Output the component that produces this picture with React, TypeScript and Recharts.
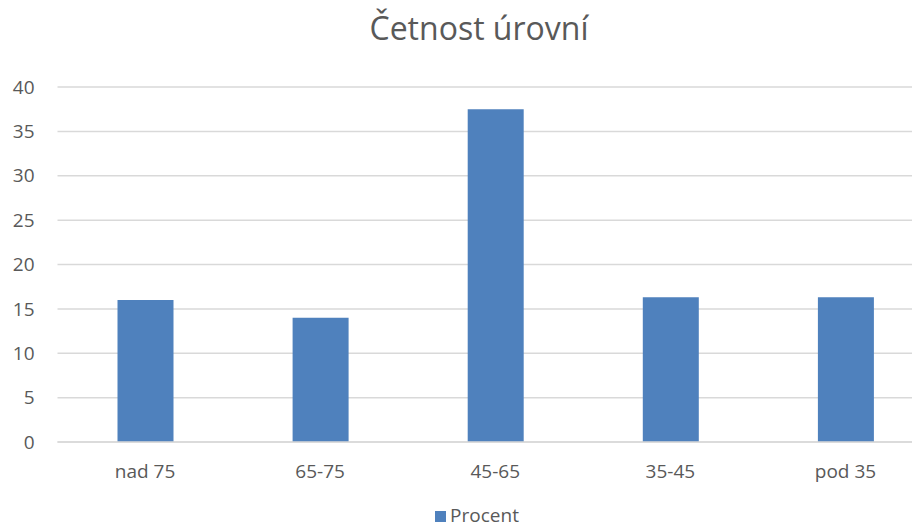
import React from 'react';
import { BarChart, Bar, XAxis, YAxis, CartesianGrid, Legend } from 'recharts';

const categories = ['nad 75', '65-75', '45-65', '35-45', 'pod 35'];
const procent = [16, 14, 37.5, 16.3, 16.3];
const yTicks = [0, 5, 10, 15, 20, 25, 30, 35, 40];

const data = categories.map((name, i) => ({ name, Procent: procent[i] }));

const FONT = '"Open Sans", sans-serif';
const TEXT = '#595959';

const App: React.FC = () => {
  return (
    <div style={{ margin: -8, width: 920, height: 530, overflow: 'hidden', position: 'relative', background: '#fff' }}>
      <div
        style={{
          position: 'absolute',
          top: 6,
          left: 279,
          width: 400,
          textAlign: 'center',
          fontFamily: FONT,
          fontSize: 32,
          color: TEXT,
        }}
      >
        Četnost úrovní
      </div>
      <BarChart
        width={933}
        height={530}
        data={data}
        margin={{ top: 87, right: 0, left: 0, bottom: 0 }}
        barSize={56}
      >
        <CartesianGrid vertical={false} stroke="#D9D9D9" strokeWidth={1.5} />
        <XAxis
          dataKey="name"
          axisLine={{ stroke: '#D9D9D9', strokeWidth: 1.5 }}
          tickLine={false}
          tickSize={0}
          tickMargin={23}
          height={66}
          tick={{ fill: TEXT, fontSize: 19, fontFamily: FONT }}
        />
        <YAxis
          width={57.5}
          domain={[0, 40]}
          ticks={yTicks}
          axisLine={false}
          tickLine={false}
          tickSize={0}
          tickMargin={23}
          tick={{ fill: TEXT, fontSize: 19, fontFamily: FONT }}
        />
        <Legend
          verticalAlign="bottom"
          iconType="square"
          iconSize={11}
          wrapperStyle={{ left: 22, width: 920, fontFamily: FONT, fontSize: 19, bottom: 4, lineHeight: '22px' }}
          formatter={(v: string) => <span style={{ color: TEXT }}>{v}</span>}
        />
        <Bar dataKey="Procent" fill="#4F81BD" isAnimationActive={false} />
      </BarChart>
    </div>
  );
};

export default App;
